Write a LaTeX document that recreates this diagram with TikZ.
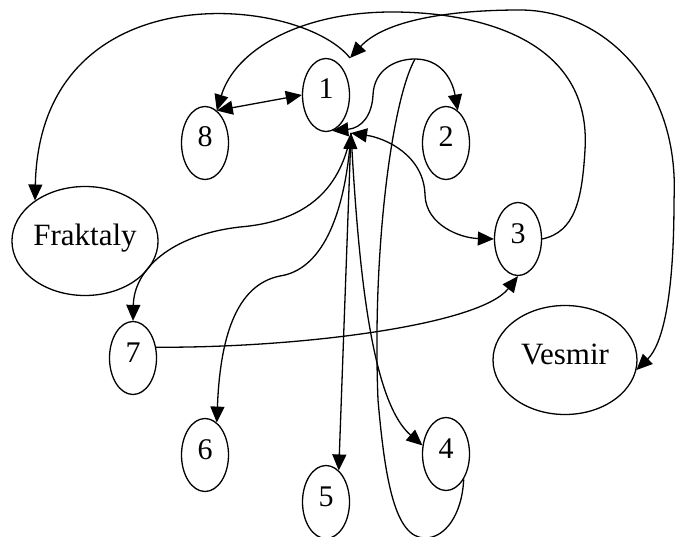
\documentclass[tikz,border=0pt]{standalone}
\usepackage{fontspec}
\setmainfont{Liberation Serif}
\usetikzlibrary{shapes.geometric, arrows.meta}

\begin{document}
\begin{tikzpicture}[
  x=1pt, y=-1pt,
  font=\fontsize{30}{36}\selectfont,
  num/.style ={ellipse, draw, line width=1.3pt, minimum width=47pt, minimum height=73pt, inner sep=0pt, text height=20pt, text depth=12pt},
  big/.style ={num, minimum width=144pt, minimum height=109pt, font=\fontsize{31}{36}\selectfont},
  flow/.style={-{Triangle[length=16pt, width=14pt]}, line width=1.3pt},
  bi/.style  ={{Triangle[length=16pt, width=14pt]}-{Triangle[length=16pt, width=14pt]}, line width=1.3pt},
  wire/.style={line width=1.3pt},
]
\useasboundingbox (0,0) rectangle (676,537);

% ---------- nodes ----------
\node[num] (n1)   at (326,95)  {1};
\node[num] (n8)   at (205,143) {8};
\node[num] (n2)   at (446,143) {2};
\node[big] (frak) at (85,241)  {Fraktaly};
\node[num] (n3)   at (518,239) {3};
\node[num] (n7)   at (133,358) {7};
\node[big] (ves)  at (565,360) {Vesmir};
\node[num] (n6)   at (205,455) {6};
\node[num] (n4)   at (446,454) {4};
\node[num] (n5)   at (326,502) {5};

% ---------- meeting points ----------
\coordinate (top1) at (350,58);
\coordinate (hub)  at (351,133);
\coordinate (apex) at (415,59);

% ---------- top arcs ----------
\draw[flow] (top1) .. controls (300,-5) and (40,-30) .. (frak.141);
\draw[bi]   (top1) .. controls (385,20) and (450,10) .. (520,10)
                   .. controls (600,10) and (680,80) .. (674,200)
                   .. controls (674,300) and (662,345) .. (ves.-8);
\draw[flow] (n3.east) .. controls (575,232) and (582,200) .. (585,150)
                      .. controls (592,40) and (480,12) .. (392,12)
                      .. controls (300,12) and (235,50) .. (n8.70);
\draw[bi]   (n8.70) -- (n1.west);

% ---------- around 1 ----------
\draw[bi]   (n1.-80) .. controls (362,128) and (372,115) .. (373,95)
                     .. controls (374,70) and (395,59) .. (apex)
                     .. controls (440,59) and (452,78) .. (n2.70);
\draw[bi]   (hub) .. controls (385,138) and (424,155) .. (425,195)
                  .. controls (426,225) and (460,238) .. (n3.west);

% ---------- fan below 1 ----------
\draw[flow] (hub) .. controls (340,195) and (300,222) .. (240,227)
                  .. controls (170,235) and (134,270) .. (n7.north);
\draw[flow] (hub) .. controls (345,220) and (320,270) .. (280,276)
                  .. controls (235,285) and (220,340) .. (n6.70);
\draw[bi]   (hub) -- (n5.68);
\draw[flow] (hub) .. controls (358,260) and (370,400) .. (n4.160);

% ---------- 7 to 3, loop from 4 ----------
\draw[flow] (n7.25) .. controls (300,348) and (480,325) .. (n3.south);
\draw[wire] (n4.-55) .. controls (462,515) and (445,538) .. (425,538)
                     .. controls (395,538) and (385,480) .. (378,400)
                     .. controls (372,250) and (392,100) .. (apex);

\end{tikzpicture}
\end{document}
